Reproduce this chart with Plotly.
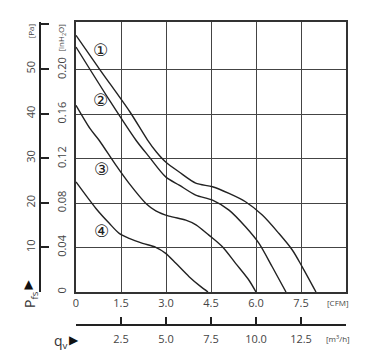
import plotly.graph_objects as go

# Data (flow in CFM, static pressure in inH2O)
c1_x = [0, 0.80, 1.80, 2.38, 2.68, 2.99, 3.44, 3.99, 4.55, 5.10, 5.65, 6.21, 6.76, 7.21, 7.54, 8.0]
c1_y = [0.231, 0.200, 0.162, 0.137, 0.126, 0.117, 0.108, 0.098, 0.0947, 0.0887, 0.0812, 0.0692, 0.0528, 0.0378, 0.0227, 0]
c2_x = [0, 1.13, 2.0, 2.44, 2.99, 3.44, 3.99, 4.55, 5.10, 5.65, 6.10, 6.54, 7.0]
c2_y = [0.2205, 0.172, 0.1366, 0.1216, 0.1036, 0.0962, 0.0872, 0.0827, 0.0737, 0.0587, 0.0438, 0.0227, 0]
c3_x = [0, 0.47, 0.77, 1.33, 1.77, 2.33, 2.66, 3.10, 3.66, 4.0, 4.43, 4.88, 5.32, 5.76, 6.0]
c3_y = [0.168, 0.147, 0.1366, 0.1141, 0.0977, 0.0797, 0.0731, 0.0683, 0.0647, 0.0605, 0.0512, 0.0407, 0.0258, 0.0108, 0]
c4_x = [0, 0.665, 1.11, 1.44, 1.77, 2.22, 2.66, 2.99, 3.33, 3.77, 4.16, 4.4]
c4_y = [0.0991, 0.0752, 0.0618, 0.0528, 0.0483, 0.0438, 0.0402, 0.0348, 0.0258, 0.0138, 0.0048, 0]

curve_labels = ["①", "②", "③", "④"]
label_x = [0.82, 0.82, 0.84, 0.84]
label_y = [0.2175, 0.1726, 0.1106, 0.0551]

cfm_ticks = [0, 1.5, 3.0, 4.5, 6.0, 7.5]
cfm_text = ["0", "1.5", "3.0", "4.5", "6.0", "7.5"]
inh2o_ticks = [0, 0.04, 0.08, 0.12, 0.16, 0.20]
inh2o_text = ["0", "0.04", "0.08", "0.12", "0.16", "0.20"]
pa_ticks = [0, 10, 20, 30, 40, 50, 60]
pa_text = ["", "10", "20", "30", "40", "50", ""]
m3h_ticks = [0, 2.5, 5.0, 7.5, 10.0, 12.5]
m3h_text = ["", "2.5", "5.0", "7.5", "10.0", "12.5"]

X_MAX = 9.0
Y_MAX = 0.243
PA_PER_INH2O = 249.09

INK = "#222222"
fig = go.Figure()
for xs, ys in [(c1_x, c1_y), (c2_x, c2_y), (c3_x, c3_y), (c4_x, c4_y)]:
    fig.add_trace(go.Scatter(x=xs, y=ys, mode="lines",
                             line=dict(color=INK, width=1.4, shape="spline", smoothing=0.8),
                             showlegend=False, hoverinfo="skip"))

# dummy traces to activate secondary axes
fig.add_trace(go.Scatter(x=[0], y=[0], yaxis="y2", mode="markers",
                         marker=dict(opacity=0), showlegend=False, hoverinfo="skip"))
fig.add_trace(go.Scatter(x=[0], y=[0], xaxis="x2", mode="markers",
                         marker=dict(opacity=0), showlegend=False, hoverinfo="skip"))

# page has an 8px body margin; positions below are page pixels
OFF = 8
W, H = 390 - 2 * OFF, 362 - 2 * OFF
L, R, T, B = 20 - OFF, 44 - OFF, 22 - OFF, 20 - OFF
pw, ph = W - L - R, H - T - B
def px_x(p):
    return (p - OFF - L) / pw
def px_y(p):
    return (H - B - (p - OFF)) / ph

xdom = [px_x(76), 1]
ydom = [px_y(292), 1]

tickfont = dict(family="Open Sans, DejaVu Sans, sans-serif", size=11, color="#444")

annotations = []
for t, xv, yv in zip(curve_labels, label_x, label_y):
    annotations.append(dict(x=xv, y=yv, xref="x", yref="y", text=t, showarrow=False,
                            xanchor="center", yanchor="middle",
                            font=dict(family="DejaVu Sans", size=17, color=INK)))
small = dict(family="Open Sans, DejaVu Sans, sans-serif", size=8, color="#444")
extra = [
    dict(x=px_x(62), y=0.229, xref="paper", yref="y", text="[inH<sub>2</sub>O]",
         textangle=-90, font=small),
    dict(x=px_x(30), y=0.2346, xref="paper", yref="y", text="[Pa]",
         textangle=-90, font=small),
    dict(x=px_x(338), y=px_y(302), xref="paper", yref="paper", text="[CFM]", font=small),
    dict(x=px_x(338), y=px_y(338), xref="paper", yref="paper", text="[m<sup>3</sup>/h]",
         font=small),
    dict(x=px_x(30), y=px_y(300), xref="paper", yref="paper", text="P<sub>fs</sub>",
         textangle=-90,
         font=dict(family="Open Sans, DejaVu Sans, sans-serif", size=14, color="#333")),
    dict(x=px_x(29), y=px_y(284), xref="paper", yref="paper", text="▲",
         font=dict(family="DejaVu Sans", size=12, color="#111")),
    dict(x=px_x(61), y=px_y(341), xref="paper", yref="paper", text="q<sub>v</sub>",
         font=dict(family="Open Sans, DejaVu Sans, sans-serif", size=14, color="#333")),
    dict(x=px_x(74), y=px_y(340), xref="paper", yref="paper", text="▶",
         font=dict(family="DejaVu Sans", size=12, color="#111")),
]
for a in extra:
    a.update(showarrow=False, xanchor="center", yanchor="middle")
annotations += extra

fig.update_layout(
    width=W, height=H,
    margin=dict(l=L, r=R, t=T, b=B, autoexpand=False),
    paper_bgcolor="white", plot_bgcolor="white",
    showlegend=False,
    annotations=annotations,
    xaxis=dict(domain=xdom, range=[0, X_MAX], tickvals=cfm_ticks, ticktext=cfm_text,
               showgrid=True, gridcolor="#444", gridwidth=1,
               showline=True, linecolor="#333", linewidth=2, mirror=True,
               ticks="", tickfont=tickfont, zeroline=False, anchor="y", automargin=False),
    yaxis=dict(domain=ydom, range=[0, Y_MAX], tickvals=inh2o_ticks, ticktext=inh2o_text,
               showgrid=True, gridcolor="#444", gridwidth=1,
               showline=True, linecolor="#333", linewidth=2, mirror=True,
               ticks="", tickangle=-90, tickfont=tickfont, zeroline=False, anchor="x",
               ticklabelstandoff=4, automargin=False),
    yaxis2=dict(domain=ydom, range=[0, Y_MAX * PA_PER_INH2O], overlaying="y",
                anchor="free", position=px_x(40), side="left",
                tickvals=pa_ticks, ticktext=pa_text, tickangle=-90,
                ticks="inside", ticklen=8, tickwidth=2, tickcolor=INK,
                showline=True, linecolor=INK, linewidth=2, showgrid=False,
                zeroline=False, tickfont=tickfont, automargin=False),
    xaxis2=dict(domain=xdom, range=[0, 15.0], overlaying="x",
                anchor="free", position=px_y(325), side="bottom",
                tickvals=m3h_ticks, ticktext=m3h_text,
                ticks="inside", ticklen=7, tickwidth=2, tickcolor=INK,
                showline=True, linecolor=INK, linewidth=2, showgrid=False,
                zeroline=False, tickfont=tickfont, automargin=False,
                ticklabelstandoff=4),
)

fig.write_html("out.html")
